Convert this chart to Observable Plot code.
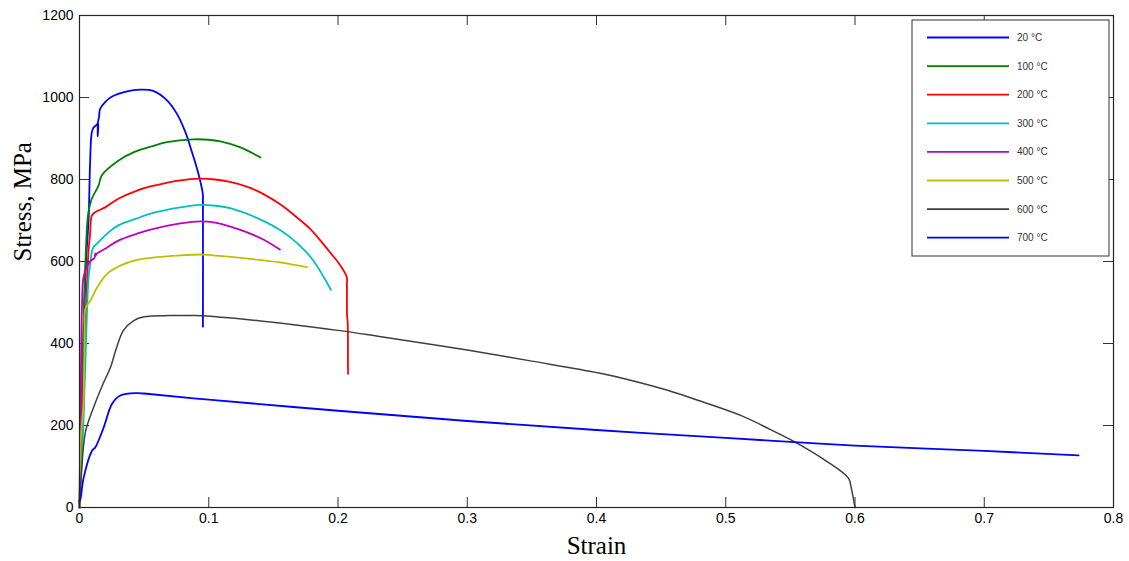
<!DOCTYPE html>
<html>
<head>
<meta charset="utf-8">
<script src="https://cdn.jsdelivr.net/npm/d3@7"></script>
<script src="https://cdn.jsdelivr.net/npm/@observablehq/plot@0.6"></script>
<style>
  html, body { margin: 0; padding: 0; background: #fff; }
  #chart { width: 1129px; height: 561px; }
</style>
</head>
<body>
<div id="chart"></div>
<script>
// Engineering stress–strain curves at elevated temperatures: [strain, stress MPa]
const curve20 = [[0,0],[0.003,400],[0.005,600],[0.0064,667],[0.0072,716],[0.0082,842],[0.0095,915],[0.0108,926],[0.0134,934],[0.0143,938],[0.0141,905],[0.0143,940],[0.0151,952],[0.0159,972],[0.0198,989],[0.0249,1002],[0.0368,1015],[0.047,1019],[0.057,1016],[0.0677,993],[0.0754,960],[0.082,915],[0.0865,872],[0.0915,820],[0.0954,765],[0.0955,745],[0.0955,460],[0.0955,441]];
const curve100 = [[0,0],[0.002,300],[0.004,550],[0.0049,623],[0.0059,690],[0.0069,720],[0.0095,753],[0.0147,785],[0.0172,810],[0.030,846],[0.043,868],[0.055,880],[0.0677,891],[0.088,898],[0.1,897],[0.109,893],[0.124,879],[0.14,854]];
const curve200 = [[0,0],[0.003,300],[0.006,560],[0.0069,623],[0.0082,667],[0.0095,712],[0.012,720],[0.0198,732],[0.030,753],[0.0445,773],[0.055,783],[0.078,798],[0.093,802],[0.105,800],[0.1165,794],[0.13,782],[0.142,765],[0.155,740],[0.168,708],[0.179,678],[0.1885,643],[0.196,614],[0.201,594],[0.2068,562],[0.2069,545],[0.207,470],[0.2075,450],[0.2077,345],[0.2078,326]];
const curve300 = [[0,0],[0.003,205],[0.005,400],[0.007,560],[0.0085,600],[0.0095,623],[0.0108,635],[0.0147,647],[0.0224,671],[0.030,688],[0.0445,705],[0.055,717],[0.078,732],[0.093,738],[0.105,736],[0.1165,730],[0.1297,716],[0.143,698],[0.1555,676],[0.169,643],[0.181,602],[0.1945,531]];
const curve400 = [[0,0],[0.001,300],[0.002,500],[0.003,560],[0.006,590],[0.009,603],[0.0115,608],[0.0121,620],[0.0124,614],[0.0134,619],[0.0198,631],[0.030,651],[0.0445,668],[0.055,678],[0.078,693],[0.0936,698],[0.105,695],[0.1168,685],[0.1297,671],[0.1426,653],[0.155,629]];
const curve500 = [[0,0],[0.001,170],[0.003,250],[0.0035,330],[0.004,430],[0.0046,485],[0.0085,505],[0.0137,537],[0.0213,570],[0.0316,590],[0.0445,604],[0.055,609],[0.078,615],[0.096,617],[0.103,615],[0.13,607],[0.155,598],[0.176,586]];
const curve600 = [[0,10],[0.0013,74],[0.0046,184],[0.011,245],[0.018,300],[0.024,342],[0.028,383],[0.034,432],[0.042,456],[0.05,465],[0.07,468],[0.09,468],[0.14,455],[0.2,432],[0.232,417],[0.3,384],[0.35,357],[0.402,328],[0.427,310],[0.455,286],[0.479,261],[0.512,224],[0.541,180],[0.554,159],[0.577,115],[0.595,71],[0.597,49],[0.6,0]];
const curve700 = [[0,15],[0.0008,22],[0.0033,74],[0.0098,139],[0.0123,147],[0.0188,196],[0.0252,253],[0.0316,273],[0.0445,279],[0.05,278],[0.1,263],[0.2,236],[0.3,211],[0.4,189],[0.5,170],[0.55,160],[0.6,151],[0.7,138],[0.773,127]];

const seriesNames = ["20 °C","100 °C","200 °C","300 °C","400 °C","500 °C","600 °C","700 °C"];
const seriesColors = ["#0000ff","#008000","#ff0000","#00bfbf","#bf00bf","#bfbf00","#3f3f3f","#0000ff"];
const seriesCurves = [curve20, curve100, curve200, curve300, curve400, curve500, curve600, curve700];

const xTicks = [0,0.1,0.2,0.3,0.4,0.5,0.6,0.7,0.8];
const yTicks = [0,200,400,600,800,1000,1200];

// long table for the line marks
const rows = seriesCurves.flatMap((c, i) => c.map(([strain, stress]) => ({series: seriesNames[i], strain, stress})));

const W = 1129, H = 561;
const mL = 79, mR = 16, mT = 15, mB = 54;
const innerW = W - mL - mR, innerH = H - mT - mB;
const tickLen = 10;
const axisFont = "Liberation Sans, Arial, sans-serif";
const titleFont = "Liberation Serif, Times New Roman, serif";

const chart = Plot.plot({
  width: W, height: H,
  marginLeft: mL, marginRight: mR, marginTop: mT, marginBottom: mB,
  style: {fontFamily: axisFont, fontSize: "14px", color: "#000", background: "#fff"},
  x: {domain: [0, 0.8]},
  y: {domain: [0, 1200]},
  marks: [
    Plot.axisX({ticks: xTicks, tickSize: 0, tickPadding: 6, label: null, tickFormat: d => String(d)}),
    Plot.axisY({ticks: yTicks, tickSize: 0, tickPadding: 6, label: null, tickFormat: d => String(d)}),
    // inward ticks on all four sides
    Plot.tickX(xTicks, {x: d => d, insetTop: innerH - tickLen, stroke: "#333"}),
    Plot.tickX(xTicks, {x: d => d, insetBottom: innerH - tickLen, stroke: "#333"}),
    Plot.tickY(yTicks, {y: d => d, insetRight: innerW - tickLen, stroke: "#333"}),
    Plot.tickY(yTicks, {y: d => d, insetLeft: innerW - tickLen, stroke: "#333"}),
    ...seriesNames.map((name, i) =>
      Plot.line(rows.filter(r => r.series === name), {
        x: "strain", y: "stress", stroke: seriesColors[i], curve: "catmull-rom",
        strokeWidth: i === 6 ? 1.5 : 1.8, strokeLinejoin: "round"
      })
    ),
    Plot.frame({stroke: "#222", strokeWidth: 1.2}),
    Plot.text(["Strain"], {frameAnchor: "bottom", dy: 46, fontFamily: titleFont, fontSize: 25, fill: "#000"}),
    Plot.text(["Stress, MPa"], {frameAnchor: "left", dx: -57, rotate: -90, fontFamily: titleFont, fontSize: 25, fill: "#000"})
  ]
});

// legend box in the upper right of the frame
const svg = d3.select(chart);
const lg = svg.append("g").attr("transform", "translate(912,20)").attr("text-anchor", "start");
lg.append("rect").attr("x", 0).attr("y", 0).attr("width", 197).attr("height", 236)
  .attr("fill", "#fff").attr("stroke", "#333").attr("stroke-width", 1);
seriesNames.forEach((name, i) => {
  const y = 17.5 + i * 28.6;
  lg.append("line").attr("x1", 15).attr("x2", 97).attr("y1", y).attr("y2", y)
    .attr("stroke", seriesColors[i]).attr("stroke-width", 1.8);
  lg.append("text").attr("x", 105).attr("y", y).attr("dy", "0.35em").attr("text-anchor", "start")
    .attr("font-family", axisFont).attr("font-size", 10).attr("fill", "#333").text(name);
});

document.getElementById("chart").appendChild(chart);
</script>
</body>
</html>
